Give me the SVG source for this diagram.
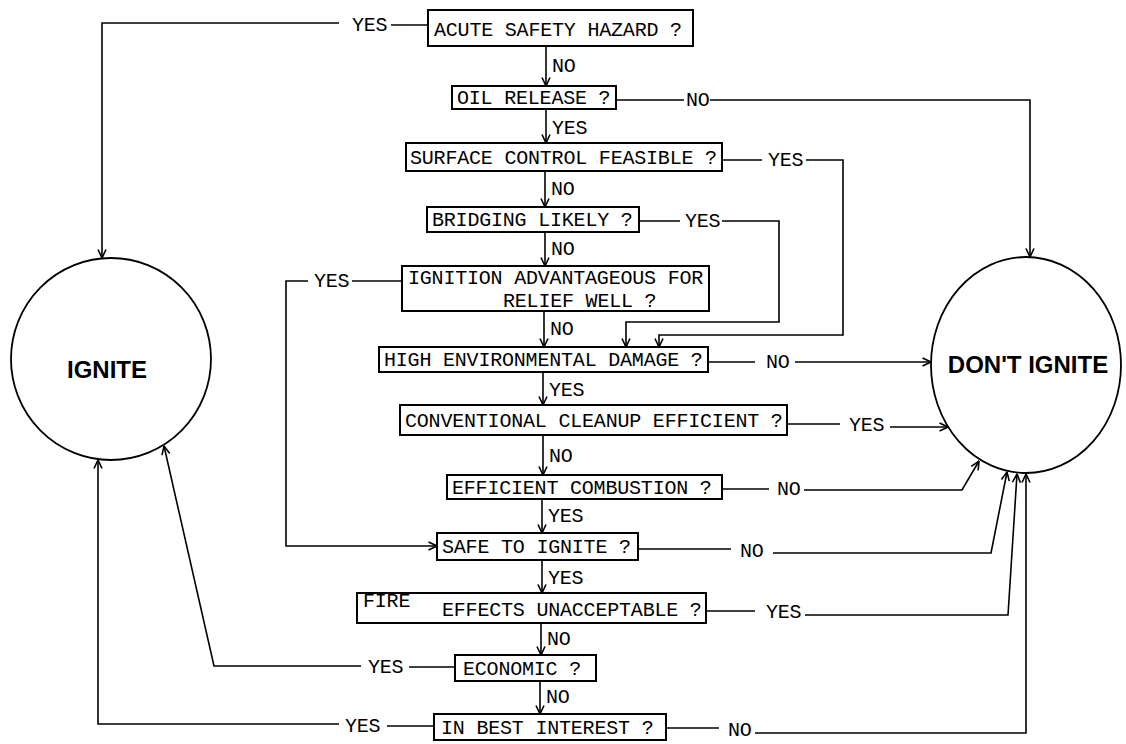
<svg xmlns="http://www.w3.org/2000/svg" width="1126" height="744" viewBox="0 0 1126 744">
<defs>
<style>
.box{fill:#fff;stroke:#000;stroke-width:2}
.ln{fill:none;stroke:#000;stroke-width:1.6}
.circ{fill:#fff;stroke:#000;stroke-width:1.8}
.t{font-family:"Liberation Mono","Courier New",monospace;font-size:20px;letter-spacing:-0.2px;fill:#000}
.big{font-family:"Liberation Sans",Arial,sans-serif;font-weight:bold;font-size:24px;text-anchor:middle;fill:#000}
</style>
<marker id="arr" viewBox="0 0 10 10" refX="9.5" refY="5" markerWidth="10" markerHeight="10" markerUnits="userSpaceOnUse" orient="auto">
<path d="M1,1 L9.5,5 L1,9" fill="none" stroke="#000" stroke-width="1.6"/>
</marker>
</defs>
<rect width="1126" height="744" fill="#fff"/>

<g id="connectors">
<!-- vertical main column -->
<path class="ln" marker-end="url(#arr)" d="M546,46 V86"/>
<text class="t" x="552" y="72">NO</text>
<path class="ln" marker-end="url(#arr)" d="M546,109 V143"/>
<text class="t" x="552" y="134">YES</text>
<path class="ln" marker-end="url(#arr)" d="M545,171 V207"/>
<text class="t" x="551" y="195">NO</text>
<path class="ln" marker-end="url(#arr)" d="M545,232 V266"/>
<text class="t" x="551" y="255">NO</text>
<path class="ln" marker-end="url(#arr)" d="M544,311 V347"/>
<text class="t" x="550" y="335">NO</text>
<path class="ln" marker-end="url(#arr)" d="M543,372 V405"/>
<text class="t" x="549" y="396">YES</text>
<path class="ln" marker-end="url(#arr)" d="M543,435 V475"/>
<text class="t" x="549" y="462">NO</text>
<path class="ln" marker-end="url(#arr)" d="M542,499 V533"/>
<text class="t" x="548" y="522">YES</text>
<path class="ln" marker-end="url(#arr)" d="M542,560 V593"/>
<text class="t" x="548" y="584">YES</text>
<path class="ln" marker-end="url(#arr)" d="M541,623 V655"/>
<text class="t" x="547" y="645">NO</text>
<path class="ln" marker-end="url(#arr)" d="M540,681 V714"/>
<text class="t" x="546" y="703">NO</text>

<!-- left side to IGNITE -->
<path class="ln" d="M391,25 H428"/>
<text class="t" x="352" y="31">YES</text>
<path class="ln" marker-end="url(#arr)" d="M339,23 H102 V258"/>

<path class="ln" d="M402,281 H352"/>
<text class="t" x="314" y="287">YES</text>
<path class="ln" marker-end="url(#arr)" d="M308,281 H286 V546 H437"/>

<path class="ln" d="M455,667 H409"/>
<text class="t" x="368" y="673">YES</text>
<path class="ln" marker-end="url(#arr)" d="M361,666 H214 L164,446"/>

<path class="ln" d="M434,726 H387"/>
<text class="t" x="345" y="732">YES</text>
<path class="ln" marker-end="url(#arr)" d="M339,724 H98 V460"/>

<!-- right side to DON'T IGNITE -->
<path class="ln" d="M616,100 H684"/>
<text class="t" x="686" y="106">NO</text>
<path class="ln" marker-end="url(#arr)" d="M710,100 H1030 V257"/>

<path class="ln" d="M722,160 H762"/>
<text class="t" x="768" y="166">YES</text>
<path class="ln" marker-end="url(#arr)" d="M806,160 H843 V335 H659 V347"/>

<path class="ln" d="M639,221 H680"/>
<text class="t" x="685" y="227">YES</text>
<path class="ln" marker-end="url(#arr)" d="M722,221 H779 V322 H626 V347"/>

<path class="ln" d="M708,362 H755"/>
<text class="t" x="766" y="368">NO</text>
<path class="ln" marker-end="url(#arr)" d="M795,362 H931"/>

<path class="ln" d="M787,424 H840"/>
<text class="t" x="849" y="431">YES</text>
<path class="ln" marker-end="url(#arr)" d="M890,427 H948"/>

<path class="ln" d="M722,489 H769"/>
<text class="t" x="777" y="495">NO</text>
<path class="ln" marker-end="url(#arr)" d="M804,490 H962 L979,461"/>

<path class="ln" d="M638,549 H731"/>
<text class="t" x="740" y="557">NO</text>
<path class="ln" marker-end="url(#arr)" d="M773,553 H991 L1007,472"/>

<path class="ln" d="M706,611 H755"/>
<text class="t" x="766" y="618">YES</text>
<path class="ln" marker-end="url(#arr)" d="M805,615 H1008 L1017,474"/>

<path class="ln" d="M666,728 H719"/>
<text class="t" x="728" y="736">NO</text>
<path class="ln" marker-end="url(#arr)" d="M755,733 H1026 V474"/>
</g>

<g id="ignite">
<ellipse class="circ" cx="111" cy="359" rx="100" ry="101"/>
<text class="big" x="107" y="378">IGNITE</text>
</g>
<g id="dont-ignite">
<ellipse class="circ" cx="1026" cy="365" rx="95" ry="108"/>
<text class="big" x="1028" y="373">DON'T IGNITE</text>
</g>

<g id="n1"><rect class="box" x="428" y="10" width="265" height="36"/><text class="t" x="434" y="36">ACUTE SAFETY HAZARD ?</text></g>
<g id="n2"><rect class="box" x="452" y="86" width="164" height="23"/><text class="t" x="457" y="104">OIL RELEASE ?</text></g>
<g id="n3"><rect class="box" x="406" y="143" width="316" height="28"/><text class="t" x="410" y="164">SURFACE CONTROL FEASIBLE ?</text></g>
<g id="n4"><rect class="box" x="427" y="207" width="212" height="25"/><text class="t" x="432" y="226">BRIDGING LIKELY ?</text></g>
<g id="n5"><rect class="box" x="402" y="266" width="307" height="45"/><text class="t" x="408" y="284">IGNITION ADVANTAGEOUS FOR</text><text class="t" x="503" y="307">RELIEF WELL ?</text></g>
<g id="n6"><rect class="box" x="379" y="347" width="329" height="25"/><text class="t" x="384" y="366">HIGH ENVIRONMENTAL DAMAGE ?</text></g>
<g id="n7"><rect class="box" x="400" y="405" width="387" height="30"/><text class="t" x="405" y="427">CONVENTIONAL CLEANUP EFFICIENT ?</text></g>
<g id="n8"><rect class="box" x="447" y="475" width="275" height="24"/><text class="t" x="452" y="494">EFFICIENT COMBUSTION ?</text></g>
<g id="n9"><rect class="box" x="437" y="533" width="201" height="27"/><text class="t" x="442" y="553">SAFE TO IGNITE ?</text></g>
<g id="n10"><rect class="box" x="357" y="593" width="349" height="30"/><text class="t" x="363" y="607">FIRE</text><text class="t" x="442" y="616">EFFECTS UNACCEPTABLE ?</text></g>
<g id="n11"><rect class="box" x="455" y="655" width="141" height="26"/><text class="t" x="463" y="675">ECONOMIC ?</text></g>
<g id="n12"><rect class="box" x="434" y="714" width="232" height="26"/><text class="t" x="441" y="734">IN BEST INTEREST ?</text></g>
</svg>
